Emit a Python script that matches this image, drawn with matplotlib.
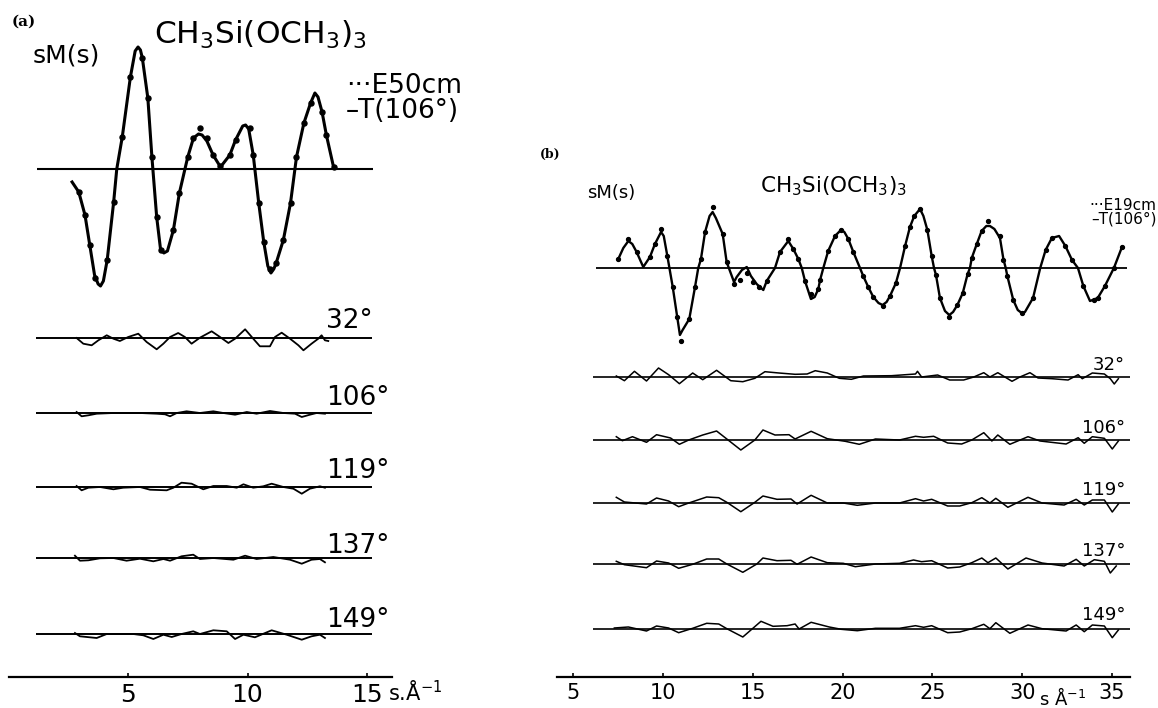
import matplotlib
matplotlib.use("Agg")
import matplotlib.pyplot as plt

plt.rcParams['font.family'] = ['DejaVu Sans']
plt.rcParams['mathtext.fontset'] = 'custom'
plt.rcParams['mathtext.rm'] = 'DejaVu Sans'

# ---------------- data : panel (a)  (s in 1/Angstrom, sM(s) arbitrary units) ----------------
a_theory_s = [2.66, 2.94, 3.2, 3.4, 3.6, 3.75, 3.85, 3.97, 4.13, 4.4, 4.53, 4.76, 5.1, 5.3, 5.42, 5.52,
              5.6, 5.83, 6.0, 6.2, 6.36, 6.5, 6.65, 6.9, 7.15, 7.5, 7.74, 7.95, 8.1, 8.3, 8.56, 8.87,
              9.26, 9.5, 9.8, 9.92, 10.05, 10.24, 10.47, 10.68, 10.85, 10.98, 11.1, 11.2, 11.5, 11.8,
              12.05, 12.36, 12.64, 12.82, 12.95, 13.12, 13.3, 13.6]
a_theory_v = [-13, -23, -46, -76, -106, -115, -117, -112, -91, -33, 0, 32, 92, 118, 122, 119,
              111, 71, 12, -48, -80, -84, -82, -61, -24, 12, 31, 35, 34, 28, 14, 2,
              14, 29, 43, 44, 40, 14, -34, -73, -97, -104, -100, -94, -71, -34,
              12, 46, 66, 76, 72, 57, 34, 2]
a_exp_s = [2.94, 3.2, 3.4, 3.6, 4.13, 4.4, 4.76, 5.1, 5.6, 5.83, 6.0, 6.2, 6.36, 6.9, 7.15, 7.5, 7.74,
           8.0, 8.3, 8.56, 8.87, 9.26, 9.5, 10.1, 10.24, 10.47, 10.68, 10.96, 11.2, 11.5, 11.8, 12.05,
           12.36, 12.64, 13.12, 13.3, 13.6]
a_exp_v = [-23, -46, -76, -109, -91, -33, 32, 92, 111, 71, 12, -48, -81, -61, -24, 12, 31,
           41, 31, 14, 3, 14, 29, 41, 14, -34, -73, -100, -94, -71, -34, 12,
           46, 66, 57, 34, 2]

a_angles = ["32°", "106°", "119°", "137°", "149°"]
a_diff_s = [
    [2.85, 3.13, 3.48, 3.76, 4.11, 4.39, 4.66, 5.01, 5.43, 5.78, 6.2, 6.48, 6.76, 7.1, 7.38, 7.66, 8.01,
     8.5, 8.85, 9.2, 9.48, 9.9, 10.24, 10.52, 10.94, 11.15, 11.43, 11.78, 12.13, 12.34, 12.68, 12.96,
     13.1, 13.24, 13.38],
    [2.85, 3.06, 3.34, 3.69, 4.39, 5.5, 6.2, 6.55, 6.76, 7.04, 7.45, 8.01, 8.57, 8.99, 9.48, 9.97,
     10.38, 10.94, 11.5, 11.99, 12.27, 12.61, 12.89, 13.24],
    [2.85, 3.06, 3.34, 3.83, 4.39, 4.8, 5.5, 5.92, 6.62, 6.9, 7.24, 7.66, 8.15, 8.57, 9.13, 9.55, 9.83,
     10.24, 10.66, 11.01, 11.5, 11.92, 12.27, 12.61, 13.03, 13.24],
    [2.78, 2.99, 3.34, 3.83, 4.39, 4.94, 5.5, 6.06, 6.48, 6.76, 7.24, 7.73, 8.01, 8.57, 9.41, 9.9,
     10.38, 11.08, 11.78, 12.27, 12.68, 13.03, 13.24],
    [2.78, 2.99, 3.69, 4.11, 5.22, 5.64, 6.06, 6.48, 6.83, 7.24, 7.73, 8.01, 8.57, 9.13, 9.48, 9.83,
     10.31, 11.01, 11.64, 12.27, 12.68, 13.03, 13.24],
]
a_diff_v = [
    [0, -5.7, -7.3, -2.3, 2.7, -0.7, -3, 1, 4.3, -4, -11.3, -5.7, 1, 5, 1, -5.7, 0.3,
     6.7, 1, -5, -0.7, 8.7, -0.7, -8.3, -8.3, 1, 5.3, -0.7, -7.3, -12.3, -5.7, -0.7,
     2.7, -2.3, -3],
    [1, -3.3, -2.3, -0.7, 0, 0, -0.7, -1.3, -3.3, 0, 1.7, 0, 1.7, 0, -1.7, 1,
     -0.7, 2, 0, -0.7, -4, -1.7, 0, -0.7],
    [1, -3.3, -0.7, 0, -2.3, -0.7, 0, -2.7, -3.3, -0.7, 4.3, 3.3, -2.3, 1, 1, -0.7, 2.7,
     -0.7, 0.7, 3.3, 0, -1.7, -6.7, -1.7, 0.7, -0.7],
    [2.3, -2.7, -2.3, -0.3, 0, -2.7, -0.7, -3.3, -1, -2.7, 1.7, 3.3, -1, 0, -1.7, 2.3,
     -1, 1, -1.7, -5.7, -1.7, -1, -4.3],
    [1, -2.3, -4, 0, 0, -1.3, -5, -0.7, -3, 0, 2.7, 0, 3.7, 2.7, -5, -0.7,
     -3.3, 3.7, -0.7, -5.7, -2.3, -0.7, -4],
]
a_ticks = [5, 10, 15]

# ---------------- data : panel (b) ----------------
b_theory_s = [7.52, 7.8, 8.08, 8.3, 8.54, 8.91, 9.28, 9.56, 9.9, 10.05, 10.25, 10.55, 10.8, 10.95, 11.1,
              11.47, 11.79, 11.97, 12.12, 12.35, 12.6, 12.77, 12.95, 13.33, 13.55, 13.96, 14.11, 14.4,
              14.67, 14.9, 15.22, 15.59, 15.78, 16.24, 16.52, 16.98, 17.26, 17.54, 17.73, 17.91, 18.24,
              18.45, 18.65, 18.75, 18.93, 19.2, 19.58, 19.91, 20.1, 20.32, 20.6, 20.97, 21.15, 21.43,
              21.71, 22.0, 22.23, 22.45, 22.64, 22.97, 23.2, 23.48, 23.75, 23.99, 24.31, 24.5, 24.72,
              24.96, 25.09, 25.2, 25.42, 25.7, 25.94, 26.15, 26.39, 26.69, 26.96, 27.09, 27.19, 27.47,
              27.74, 28.0, 28.2, 28.45, 28.76, 28.95, 29.08, 29.17, 29.5, 29.75, 29.97, 30.15, 30.6,
              31.0, 31.3, 31.65, 32.05, 32.4, 32.77, 33.1, 33.4, 33.77, 34.2, 34.6, 35.1, 35.55]
b_theory_v = [9, 20, 27, 24, 16, 1, 11, 24, 36, 32, 12, -19, -49, -67, -62,
              -51, -19, 0, 9, 36, 52, 56, 50, 34, 6, -14, -9, -2,
              1, -8, -16, -22, -13, 0, 16, 27, 19, 9, 0, -13, -31,
              -29, -21, -12, 0, 17, 32, 38, 36, 29, 16, 0, -8, -19,
              -29, -35, -37, -34, -28, -15, 0, 22, 41, 52, 59, 52, 38,
              12, 0, -7, -30, -43, -47, -44, -37, -25, -6, 0, 10, 24,
              37, 42, 42, 39, 30, 9, 0, -8, -32, -42, -45, -44, -30,
              0, 18, 30, 32, 22, 8, 0, -18, -33, -30, -18, 0, 21]
b_exp_s = [7.52, 8.08, 8.54, 9.28, 9.56, 9.9, 10.25, 10.55, 10.8, 11.0, 11.47, 11.79, 12.12, 12.35,
           12.8, 13.33, 13.55, 13.96, 14.3, 14.7, 15.0, 15.35, 15.78, 16.52, 16.98, 17.26, 17.54,
           17.91, 18.24, 18.65, 18.75, 19.2, 19.58, 19.91, 20.32, 20.6, 21.15, 21.43, 21.71, 22.23,
           22.64, 22.97, 23.48, 23.75, 23.99, 24.31, 24.72, 24.96, 25.2, 25.42, 25.94, 26.39, 26.69,
           26.96, 27.19, 27.47, 27.74, 28.1, 28.76, 28.95, 29.17, 29.5, 29.97, 30.6, 31.3, 31.65,
           32.4, 32.77, 33.4, 34.0, 34.2, 34.6, 35.1, 35.55]
b_exp_v = [9, 29, 16, 11, 24, 39, 12, -19, -49, -73, -51, -19, 9, 36,
           61, 34, 6, -16, -12, -5, -14, -19, -13, 16, 29, 19, 9,
           -13, -26, -21, -12, 17, 32, 38, 29, 16, -8, -19, -29, -38,
           -28, -15, 22, 41, 52, 59, 38, 12, -7, -30, -49, -37, -25,
           -6, 10, 24, 37, 47, 32, 8, -8, -32, -45, -30, 18, 30,
           22, 8, -18, -32, -30, -18, 0, 21]

b_angles = ["32°", "106°", "119°", "137°", "149°"]
b_diff_s = [
    [7.41, 7.86, 8.42, 9.09, 9.76, 10.32, 10.92, 11.66, 12.22, 12.99, 13.78, 14.45, 15.12, 15.68, 16.46,
     17.36, 18.03, 18.48, 19.15, 19.82, 20.49, 21.16, 22.72, 24.06, 24.17, 24.4, 25.29, 25.96, 26.74,
     27.3, 27.86, 28.2, 28.64, 29.43, 29.87, 30.43, 30.88, 31.66, 32.55, 33.11, 33.34, 33.9, 34.57,
     34.9, 35.12, 35.35],
    [7.41, 7.75, 8.31, 9.09, 9.65, 10.43, 10.92, 11.44, 12.22, 12.99, 13.56, 14.34, 15.12, 15.57, 16.24,
     17.02, 17.36, 18.25, 19.15, 20.15, 20.93, 21.83, 23.17, 24.06, 24.51, 25.07, 25.85, 26.63, 27.19,
     27.86, 28.31, 28.64, 29.31, 30.32, 30.99, 32.44, 33.11, 33.45, 33.9, 34.57, 35.01, 35.35],
    [7.41, 7.86, 9.09, 9.65, 10.32, 10.88, 11.44, 12.44, 13.11, 13.56, 14.34, 15.12, 15.57, 16.35,
     17.13, 17.47, 18.25, 19.15, 20.04, 20.82, 21.83, 23.17, 24.06, 24.51, 24.96, 25.85, 26.52, 27.19,
     27.75, 28.2, 28.53, 29.2, 30.32, 31.1, 32.33, 33.0, 33.45, 33.9, 34.57, 35.01, 35.35],
    [7.41, 7.86, 9.09, 9.65, 10.32, 10.88, 11.66, 12.44, 13.11, 13.56, 14.45, 15.23, 15.57, 16.35,
     17.13, 17.47, 18.25, 19.15, 20.04, 20.71, 21.83, 23.17, 23.95, 24.4, 24.96, 25.85, 26.52, 27.19,
     27.75, 28.09, 28.53, 29.2, 30.21, 31.1, 32.33, 33.0, 33.45, 34.01, 34.57, 34.9, 35.23],
    [7.3, 8.08, 9.09, 9.65, 10.32, 10.88, 11.66, 12.44, 13.11, 13.56, 14.45, 15.46, 16.13, 16.91,
     17.36, 17.58, 18.25, 19.26, 19.93, 20.82, 21.83, 23.17, 24.06, 24.51, 24.96, 25.85, 26.52, 27.19,
     27.86, 28.2, 28.53, 29.31, 30.32, 31.1, 32.44, 33.0, 33.45, 33.9, 34.57, 35.01, 35.35],
]
b_diff_v = [
    [1, -3.7, 5.7, -4, 9, 2.3, -6.7, 4, -2.7, 6.7, -3.7, -4.7, -1.3, 5.3, 4,
     2.7, 3, 6.3, 4, -1.3, -2.3, 1, 1.3, 3, 5.7, 0, 2, -3, -3,
     0, 4.3, 0, 4.3, -4.3, 0, 4.3, -1, -1.7, -3, 2.3, -1.7, 4, 3,
     -1.7, -7, -1.7],
    [3.3, -0.7, 3.3, -2.3, 5.3, 2, -4.3, 0, 5, 9, 1, -10, 0, 10, 5,
     5.3, 1, 8.7, 1.3, -1.3, -4.3, 1, 0, 3.7, 2.7, 3.7, -3, -4, 0,
     7.3, -1, 5, -4.3, 3.3, -1, -4, 2.3, -3.3, 3.3, 1.7, -9, -1],
    [5.7, 1, -1, 5, 2, -3.7, 0, 6, 5.3, 0.7, -8.7, 0.7, 7, 3.7,
     4, -1, 7.7, 0, 0, -2.3, 0, 0, 4.3, 2, 3.7, -3, -3, 0.3,
     5.3, 0, 4.7, -4.3, 5.7, 0, -2, 3.7, -2, 3, 3, -9, -1],
    [2.7, -0.7, -3.7, 3, 1, -4.3, -0.3, 5, 5, 0, -8.3, 0, 6, 3.3,
     3.7, -0.3, 7, 1.3, 0.7, -2.7, 0, 0.7, 4, 2.3, 3.3, -4, -3, 1.3,
     6, 1.3, 6, -5, 6, 1, -2, 4.7, -2, 4.3, 2.7, -9, -2],
    [1, 2, -2, 3, 1, -3.7, 0.7, 5.7, 5, 0.3, -8, 7.7, 2.7, 3.3,
     5, 0, 6.7, 2, -0.3, -1.7, 0.7, 0.7, 3.3, 1.7, 3.3, -3.7, -3, 0.3,
     4.7, 0.3, 6.3, -4.3, 4, 0.3, -2, 4, -2.7, 4, 3, -8.7, -1],
]
b_ticks = [5, 10, 15, 20, 25, 30, 35]

# ---------------- layout (pixel based) ----------------
W, H = 1158, 708
fig = plt.figure(figsize=(W / 100, H / 100), dpi=100)
fig.patch.set_facecolor("white")


def ftext(x, y, s, **kw):
    fig.text(x / W, 1 - y / H, s, **kw)


def make_axes(px0, px1, s_at_px0, px_per_unit):
    ax = fig.add_axes([px0 / W, 0, (px1 - px0) / W, 1])
    ax.set_xlim(s_at_px0, s_at_px0 + (px1 - px0) / px_per_unit)
    ax.set_ylim(-H, 0)
    ax.patch.set_alpha(0)
    for sp in ("top", "left", "right"):
        ax.spines[sp].set_visible(False)
    ax.set_yticks([])
    ax.spines["bottom"].set_position(("data", -677))
    ax.spines["bottom"].set_linewidth(1.6)
    return ax


# panel (a): s = (px - 8.5) / 23.9
ax_a = make_axes(0, 400, -8.5 / 23.9, 23.9)
# panel (b): s = 5 + (px - 573) / 17.97
ax_b = make_axes(530, 1158, 5 + (530 - 573) / 17.97, 17.97)

# ---- panel (a) ----
base_a_main = 169
ax_a.hlines(-base_a_main, 1.19, 15.25, color="black", lw=1.5)
ax_a.plot(a_theory_s, [-base_a_main + v for v in a_theory_v], color="black", lw=2.2)
ax_a.plot(a_exp_s, [-base_a_main + v for v in a_exp_v], "o", color="black", ms=3.6)

base_a_diff = [338, 413, 487, 558, 634]
a_label_y = [321, 398, 471, 546, 620]
for s, v, b, lab, ly in zip(a_diff_s, a_diff_v, base_a_diff, a_angles, a_label_y):
    ax_a.hlines(-b, 1.15, 15.2, color="black", lw=1.4)
    ax_a.plot(s, [-b + x for x in v], color="black", lw=1.3)
    ftext(326, ly, lab, fontsize=19, ha="left", va="center")

ax_a.spines["bottom"].set_bounds(0, 16.05)
ax_a.set_xticks(a_ticks)
ax_a.set_xticklabels([str(t) for t in a_ticks])
ax_a.tick_params(axis="x", direction="in", length=3, width=1.2, labelsize=18, pad=4)

ftext(12, 22, "(a)", fontsize=11, fontweight="bold", family="DejaVu Serif", ha="left", va="center")
ftext(33, 56, "sM(s)", fontsize=18, ha="left", va="center")
ftext(154, 35, r"CH$_3$Si(OCH$_3$)$_3$", fontsize=22.5, ha="left", va="center")
ftext(346, 86, "\u00b7\u00b7\u00b7E50cm", fontsize=19, ha="left", va="center")
ftext(346, 111, "\u2013T(106°)", fontsize=19, ha="left", va="center")
ftext(388, 701, r"s.Å$^{-1}$", fontsize=15, ha="left", va="baseline")

# ---- panel (b) ----
base_b_main = 268
ax_b.hlines(-base_b_main, 6.28, 35.83, color="black", lw=1.3)
ax_b.plot(b_theory_s, [-base_b_main + v for v in b_theory_v], color="black", lw=1.7)
ax_b.plot(b_exp_s, [-base_b_main + v for v in b_exp_v], "o", color="black", ms=2.8)

base_b_diff = [377, 440, 503, 564, 629]
b_label_y = [365, 428, 490, 551, 615]
for s, v, b, lab, ly in zip(b_diff_s, b_diff_v, base_b_diff, b_angles, b_label_y):
    ax_b.hlines(-b, 6.1, 36.0, color="black", lw=1.2)
    ax_b.plot(s, [-b + x for x in v], color="black", lw=1.1)
    ftext(1125, ly, lab, fontsize=13, ha="right", va="center")

ax_b.spines["bottom"].set_bounds(4.1, 36.0)
ax_b.set_xticks(b_ticks)
ax_b.set_xticklabels([str(t) for t in b_ticks])
ax_b.tick_params(axis="x", direction="in", length=3, width=1.2, labelsize=15, pad=4)

ftext(540, 154, "(b)", fontsize=9, fontweight="bold", family="DejaVu Serif", ha="left", va="center")
ftext(587, 193, "sM(s)", fontsize=13, ha="left", va="center")
ftext(760, 186, r"CH$_3$Si(OCH$_3$)$_3$", fontsize=15.5, ha="left", va="center")
ftext(1156, 205, "\u00b7\u00b7\u00b7E19cm", fontsize=11, ha="right", va="center")
ftext(1157, 219, "\u2013T(106°)", fontsize=11, ha="right", va="center")
ftext(1039, 705, r"s Å$^{-1}$", fontsize=13, ha="left", va="baseline")

fig.savefig("out.png", dpi=100, facecolor="white")
